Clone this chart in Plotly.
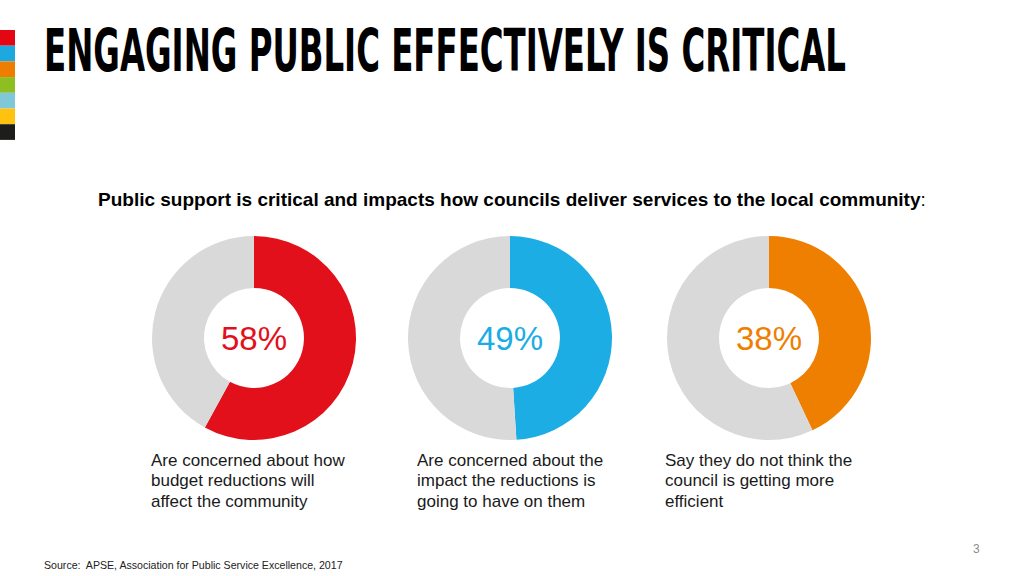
import plotly.graph_objects as go

W, H = 1024, 576

# ---- data ----
share_values = [58, 49, 43]          # slice sizes as drawn
share_labels = ["58%", "49%", "38%"]  # printed centre labels
share_colors = ["#E2101A", "#1BADE4", "#EE7F00"]
rest_color = "#D9D9D9"
captions = [
    ["Are concerned about how", "budget reductions will", "affect the community"],
    ["Are concerned about the", "impact the reductions is", "going to have on them"],
    ["Say they do not think the", "council is getting more", "efficient"],
]
stripe_colors = ["#E30613", "#1BA9E0", "#EF7D00", "#8DBE22", "#7EC8D9", "#FFC20E", "#1D1D1B"]

title_text = "ENGAGING PUBLIC EFFECTIVELY IS CRITICAL"
subtitle_text = "<b>Public support is critical and impacts how councils deliver services to the local community</b>:"
source_text = "Source:  APSE, Association for Public Service Excellence, 2017"
page_text = "3"

# ---- layout (pixels) ----
centers_x = [254, 510, 769]
center_y = 338
radius = 102
caption_x = [151, 417, 665]
caption_y0 = 460
caption_dy = 20.5
title_w = 802
title_size = 42
title_stretch = 58 / 42


def px(x):
    return x / W


def py(y):
    return 1 - y / H


fig = go.Figure()

for i, v in enumerate(share_values):
    cx = centers_x[i]
    fig.add_trace(go.Pie(
        values=[v, 100 - v],
        marker=dict(colors=[share_colors[i], rest_color], line=dict(width=0)),
        hole=0.49,
        sort=False,
        direction="clockwise",
        rotation=0,
        textinfo="none",
        hoverinfo="skip",
        showlegend=False,
        domain=dict(x=[px(cx - radius), px(cx + radius)],
                    y=[py(center_y + radius), py(center_y - radius)]),
    ))
    fig.add_annotation(x=px(cx), y=py(center_y), xref="paper", yref="paper",
                       text=share_labels[i], showarrow=False,
                       xanchor="center", yanchor="middle",
                       font=dict(family="Liberation Sans, Arial", size=33, color=share_colors[i]))
    for k, line in enumerate(captions[i]):
        fig.add_annotation(x=px(caption_x[i] - 2), y=py(caption_y0 + k * caption_dy),
                           xref="paper", yref="paper",
                           text=line, showarrow=False, align="left",
                           xanchor="left", yanchor="middle",
                           font=dict(family="Liberation Sans, Arial", size=17, color="#1a1a1a"))

# colour stripe
stripe_top = 30
stripe_h = 15.7
for i, c in enumerate(stripe_colors):
    fig.add_shape(type="rect", xref="paper", yref="paper",
                  x0=0, x1=px(15),
                  y0=py(stripe_top + (i + 1) * stripe_h), y1=py(stripe_top + i * stripe_h),
                  fillcolor=c, line=dict(width=0), layer="above")

fig.add_annotation(x=px(43 - 1), y=py(51), xref="paper", yref="paper",
                   text=title_text, showarrow=False, xanchor="left", yanchor="middle",
                   width=title_w, height=64, align="center",
                   font=dict(family="DejaVu Sans Condensed, DejaVu Sans", size=title_size,
                             color="#000000", weight="bold"))
fig.add_annotation(x=px(96), y=py(199), xref="paper", yref="paper",
                   text=subtitle_text, showarrow=False, xanchor="left", yanchor="middle",
                   font=dict(family="Liberation Sans, Arial", size=19, color="#000000"))
fig.add_annotation(x=px(42), y=py(565), xref="paper", yref="paper",
                   text=source_text, showarrow=False, xanchor="left", yanchor="middle",
                   font=dict(family="Liberation Sans, Arial", size=10.6, color="#222222"))
fig.add_annotation(x=px(976), y=py(549), xref="paper", yref="paper",
                   text=page_text, showarrow=False, xanchor="center", yanchor="middle",
                   font=dict(family="Liberation Sans, Arial", size=12, color="#8c8c8c"))

fig.update_layout(width=W, height=H, autosize=False,
                  margin=dict(l=0, r=0, t=0, b=0),
                  paper_bgcolor="white", plot_bgcolor="white")

post = """
document.body.style.margin = '0';
document.body.style.padding = '0';
var gd = document.getElementById('{plot_id}');
gd.querySelectorAll('text.annotation-text').forEach(function(n){
  if (n.textContent.indexOf('ENGAGING') === 0) {
    n.setAttribute('textLength', '%d');
    n.setAttribute('lengthAdjust', 'spacingAndGlyphs');
    n.style.transformBox = 'fill-box';
    n.style.transformOrigin = 'center';
    n.style.transform = 'scaleY(%.4f)';
  }
});
""" % (title_w, title_stretch)

fig.write_html("out.html", config={"displayModeBar": False}, post_script=post)
